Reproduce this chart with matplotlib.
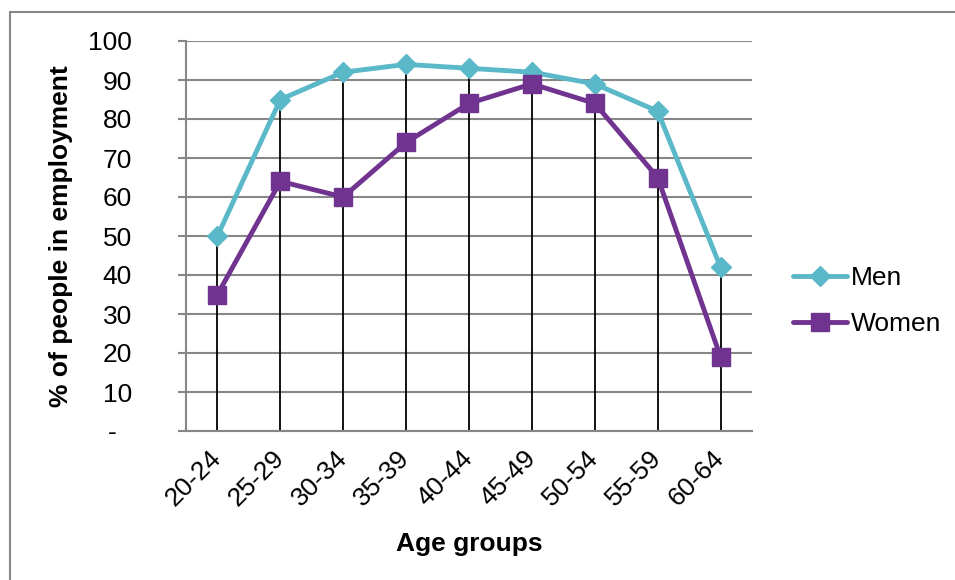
import matplotlib
matplotlib.use("Agg")
import matplotlib.pyplot as plt
import matplotlib.patches as mpatches

plt.rcParams["font.family"] = ["Liberation Sans", "DejaVu Sans"]

AGE_GROUPS = ["20-24", "25-29", "30-34", "35-39", "40-44",
              "45-49", "50-54", "55-59", "60-64"]
MEN = [50, 85, 92, 94, 93, 92, 89, 82, 42]
WOMEN = [35, 64, 60, 74, 84, 89, 84, 65, 19]
Y_TICKS = [0, 10, 20, 30, 40, 50, 60, 70, 80, 90, 100]
Y_TICK_LABELS = ["-  ", "10", "20", "30", "40", "50", "60", "70", "80", "90", "100"]

MEN_COLOR = "#5BB8C8"
WOMEN_COLOR = "#70338F"
GRID_COLOR = "#878787"
FS = 19


def main():
    fig = plt.figure(figsize=(9.55, 5.8), dpi=100)
    ax = fig.add_axes([186 / 955, 1 - 431 / 580, 566 / 955, 390 / 580])

    # outer chart border
    fig.patches.append(mpatches.Rectangle(
        (10 / 955, -0.1), 1.2, 1 - 12 / 580 + 0.1, transform=fig.transFigure,
        fill=False, edgecolor=GRID_COLOR, linewidth=1.5))

    x = list(range(len(AGE_GROUPS)))
    top = [max(m, w) for m, w in zip(MEN, WOMEN)]
    ax.vlines(x, 0, top, color="black", linewidth=1.3, zorder=2)

    ax.plot(x, MEN, color=MEN_COLOR, linewidth=3.5, marker="D", markersize=10,
            label="Men", zorder=3, solid_capstyle="round")
    ax.plot(x, WOMEN, color=WOMEN_COLOR, linewidth=3.5, marker="s", markersize=13,
            label="Women", zorder=4, solid_capstyle="round")

    ax.set_xlim(-0.5, len(AGE_GROUPS) - 0.5)
    ax.set_ylim(0, 100)
    ax.set_yticks(Y_TICKS)
    ax.set_yticklabels(Y_TICK_LABELS, fontsize=FS)
    ax.yaxis.grid(True, color=GRID_COLOR, linewidth=1.5)
    ax.set_axisbelow(True)
    ax.tick_params(axis="y", length=6, width=1.5, color=GRID_COLOR, pad=33)

    ax.set_xticks(x)
    ax.set_xticklabels(AGE_GROUPS, fontsize=FS, rotation=45, ha="right",
                       va="center", rotation_mode="anchor")
    ax.tick_params(axis="x", length=0, pad=17)

    ax.spines[["top", "right"]].set_visible(False)
    ax.spines["left"].set_color(GRID_COLOR)
    ax.spines["left"].set_linewidth(1.5)
    ax.spines["bottom"].set_color(GRID_COLOR)
    ax.spines["bottom"].set_linewidth(1.5)

    ax.set_ylabel("% of people in employment", fontsize=FS, fontweight="bold")
    ax.yaxis.set_label_coords(-113 / 566, 0.5)
    ax.set_xlabel("Age groups", fontsize=FS, fontweight="bold")
    ax.xaxis.set_label_coords(0.5, -101 / 390)

    fig.legend(loc="center left", bbox_to_anchor=(793 / 955, 1 - 301 / 580),
               frameon=False, fontsize=FS, handlelength=2.05, handletextpad=0.15,
               labelspacing=0.84, borderpad=0, borderaxespad=0)

    fig.savefig("out.png", dpi=100)
    plt.close(fig)


if __name__ == "__main__":
    main()
